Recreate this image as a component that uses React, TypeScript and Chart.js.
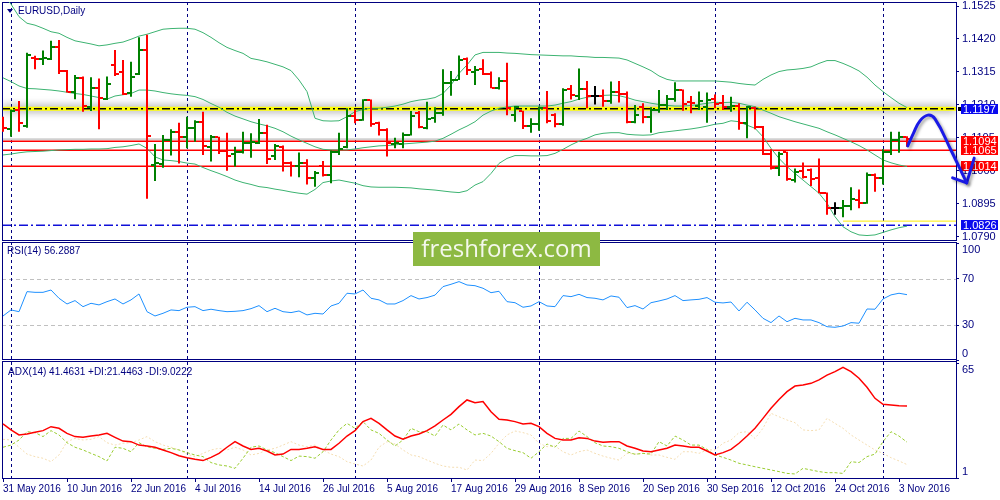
import React, { useEffect, useRef } from 'react';
import Chart from 'chart.js/auto';

// ---------- data ----------
const dateLabels = ['31 May 2016', '10 Jun 2016', '22 Jun 2016', '4 Jul 2016', '14 Jul 2016', '26 Jul 2016', '5 Aug 2016', '17 Aug 2016', '29 Aug 2016', '8 Sep 2016', '20 Sep 2016', '30 Sep 2016', '12 Oct 2016', '24 Oct 2016', '3 Nov 2016'];
const dateLabelIdx = [0, 8, 16, 24, 32, 40, 48, 56, 64, 72, 80, 88, 96, 104, 112];
const monthStartIdx = [1, 23, 44, 67, 89, 110];

const opens = [
  1.1156, 1.1133, 1.1193, 1.1142, 1.1359, 1.1355, 1.1357, 1.1395, 1.1318, 1.1250,
  1.1294, 1.1204, 1.1263, 1.1228, 1.1337, 1.1316, 1.1246, 1.1308, 1.1385, 1.1018,
  1.1020, 1.1098, 1.1122, 1.1106, 1.1137, 1.1154, 1.1076, 1.1106, 1.1064, 1.1052,
  1.1060, 1.1089, 1.1089, 1.1119, 1.1048, 1.1076, 1.1023, 1.1016, 1.1025, 1.0975,
  1.1016, 1.0986, 1.1060, 1.1076, 1.1174, 1.1161, 1.1225, 1.1153, 1.1130, 1.1084,
  1.1084, 1.1114, 1.1183, 1.1135, 1.1167, 1.1183, 1.1278, 1.1289, 1.1356, 1.1316,
  1.1323, 1.1308, 1.1265, 1.1286, 1.1177, 1.1191, 1.1142, 1.1148, 1.1199, 1.1177,
  1.1148, 1.1259, 1.1239, 1.1259, 1.1238, 1.1238, 1.1222, 1.1250, 1.1244, 1.1154,
  1.1204, 1.1170, 1.1193, 1.1209, 1.1227, 1.1257, 1.1220, 1.1206, 1.1204, 1.1228,
  1.1215, 1.1204, 1.1206, 1.1151, 1.1201, 1.1140, 1.1053, 1.1007, 1.1058, 1.0970,
  1.0999, 1.1002, 1.0975, 1.0928, 1.0880, 1.0880, 1.0887, 1.0906, 1.0898, 1.0986,
  1.0975, 1.1060, 1.1098, 1.1108,
];
const highs = [
  1.1172, 1.1195, 1.1222, 1.1376, 1.1366, 1.1383, 1.1414, 1.1417, 1.1321, 1.1305,
  1.1300, 1.1298, 1.1294, 1.1300, 1.1385, 1.1353, 1.1347, 1.1425, 1.1433, 1.1085,
  1.1114, 1.1132, 1.1153, 1.1172, 1.1161, 1.1188, 1.1114, 1.1108, 1.1121, 1.1076,
  1.1124, 1.1119, 1.1165, 1.1146, 1.1085, 1.1080, 1.1029, 1.1058, 1.1036, 1.0999,
  1.1031, 1.1064, 1.1121, 1.1199, 1.1193, 1.1228, 1.1227, 1.1156, 1.1135, 1.1105,
  1.1122, 1.1190, 1.1190, 1.1220, 1.1202, 1.1323, 1.1318, 1.1367, 1.1361, 1.1334,
  1.1355, 1.1316, 1.1298, 1.1344, 1.1206, 1.1191, 1.1167, 1.1204, 1.1254, 1.1183,
  1.1263, 1.1273, 1.1326, 1.1286, 1.1270, 1.1259, 1.1284, 1.1286, 1.1252, 1.1209,
  1.1215, 1.1202, 1.1257, 1.1241, 1.1282, 1.1259, 1.1238, 1.1252, 1.1249, 1.1243,
  1.1241, 1.1236, 1.1215, 1.1206, 1.1204, 1.1142, 1.1068, 1.1060, 1.1060, 1.1007,
  1.1026, 1.1007, 1.1039, 1.0930, 1.0899, 1.0906, 1.0947, 1.0940, 1.0994, 1.0991,
  1.1068, 1.1124, 1.1124, 1.1110,
];
const lows = [
  1.1124, 1.1108, 1.1124, 1.1137, 1.1323, 1.1337, 1.1353, 1.1308, 1.1249, 1.1228,
  1.1188, 1.1190, 1.1132, 1.1225, 1.1302, 1.1241, 1.1236, 1.1305, 1.0910, 1.0967,
  1.1009, 1.1048, 1.1023, 1.1071, 1.1092, 1.1050, 1.1029, 1.1053, 1.1000, 1.1013,
  1.1055, 1.1041, 1.1085, 1.1021, 1.1034, 1.0997, 1.0981, 1.0979, 1.0956, 1.0949,
  1.0981, 1.0960, 1.1050, 1.1071, 1.1151, 1.1159, 1.1140, 1.1112, 1.1045, 1.1071,
  1.1071, 1.1112, 1.1135, 1.1132, 1.1153, 1.1175, 1.1239, 1.1289, 1.1305, 1.1273,
  1.1305, 1.1263, 1.1259, 1.1177, 1.1156, 1.1133, 1.1121, 1.1127, 1.1151, 1.1138,
  1.1143, 1.1227, 1.1225, 1.1199, 1.1211, 1.1204, 1.1213, 1.1217, 1.1151, 1.1151,
  1.1151, 1.1121, 1.1185, 1.1193, 1.1220, 1.1191, 1.1183, 1.1193, 1.1153, 1.1199,
  1.1193, 1.1188, 1.1130, 1.1103, 1.1132, 1.1050, 1.1004, 1.0983, 1.0968, 1.0962,
  1.0975, 1.0951, 1.0928, 1.0859, 1.0859, 1.0851, 1.0874, 1.0880, 1.0894, 1.0933,
  1.0956, 1.1050, 1.1057, 1.1076,
];
const closes = [
  1.1135, 1.1190, 1.1151, 1.1369, 1.1355, 1.1358, 1.1395, 1.1318, 1.1252, 1.1294,
  1.1206, 1.1263, 1.1231, 1.1276, 1.1308, 1.1243, 1.1298, 1.1385, 1.1110, 1.1023,
  1.1098, 1.1122, 1.1106, 1.1137, 1.1154, 1.1079, 1.1106, 1.1064, 1.1048, 1.1060,
  1.1089, 1.1092, 1.1119, 1.1036, 1.1080, 1.1023, 1.1016, 1.1023, 1.0975, 1.0994,
  1.0986, 1.1060, 1.1069, 1.1174, 1.1161, 1.1225, 1.1148, 1.1130, 1.1089, 1.1089,
  1.1114, 1.1175, 1.1138, 1.1164, 1.1183, 1.1278, 1.1289, 1.1353, 1.1321, 1.1321,
  1.1308, 1.1265, 1.1286, 1.1199, 1.1202, 1.1142, 1.1148, 1.1199, 1.1158, 1.1148,
  1.1257, 1.1241, 1.1259, 1.1238, 1.1238, 1.1222, 1.1250, 1.1244, 1.1156, 1.1177,
  1.1172, 1.1193, 1.1209, 1.1227, 1.1257, 1.1213, 1.1217, 1.1222, 1.1225, 1.1213,
  1.1202, 1.1206, 1.1151, 1.1202, 1.1138, 1.1053, 1.1007, 1.1053, 1.0972, 1.0997,
  1.0981, 1.0972, 1.0930, 1.0880, 1.0880, 1.0887, 1.0908, 1.0898, 1.0986, 1.0978,
  1.1060, 1.1098, 1.1106, 1.1100,
];

const bbUpper = [
  1.1560, 1.1531, 1.1491, 1.1470, 1.1464, 1.1454, 1.1443, 1.1438, 1.1425, 1.1414,
  1.1409, 1.1404, 1.1398, 1.1401, 1.1406, 1.1410, 1.1419, 1.1429, 1.1435, 1.1443,
  1.1451, 1.1453, 1.1454, 1.1454, 1.1451, 1.1440, 1.1425, 1.1408, 1.1393, 1.1383,
  1.1374, 1.1358, 1.1353, 1.1347, 1.1339, 1.1331, 1.1319, 1.1289, 1.1252, 1.1167,
  1.1159, 1.1158, 1.1159, 1.1172, 1.1188, 1.1195, 1.1199, 1.1199, 1.1202, 1.1206,
  1.1212, 1.1220, 1.1225, 1.1228, 1.1233, 1.1246, 1.1273, 1.1310, 1.1337, 1.1369,
  1.1377, 1.1377, 1.1377, 1.1375, 1.1374, 1.1372, 1.1370, 1.1369, 1.1368, 1.1367,
  1.1366, 1.1366, 1.1364, 1.1363, 1.1361, 1.1361, 1.1360, 1.1359, 1.1353, 1.1342,
  1.1331, 1.1319, 1.1302, 1.1291, 1.1286, 1.1286, 1.1286, 1.1286, 1.1286, 1.1286,
  1.1284, 1.1282, 1.1278, 1.1275, 1.1273, 1.1291, 1.1305, 1.1316, 1.1321, 1.1323,
  1.1326, 1.1331, 1.1342, 1.1351, 1.1351, 1.1342, 1.1331, 1.1318, 1.1298, 1.1273,
  1.1252, 1.1233, 1.1215, 1.1201,
];
const bbMiddle = [
  1.1296, 1.1284, 1.1270, 1.1262, 1.1261, 1.1259, 1.1257, 1.1254, 1.1250, 1.1246,
  1.1243, 1.1238, 1.1233, 1.1228, 1.1238, 1.1242, 1.1246, 1.1257, 1.1257, 1.1254,
  1.1249, 1.1245, 1.1242, 1.1240, 1.1236, 1.1227, 1.1214, 1.1202, 1.1186, 1.1174,
  1.1165, 1.1156, 1.1149, 1.1143, 1.1135, 1.1124, 1.1110, 1.1098, 1.1087, 1.1076,
  1.1068, 1.1066, 1.1066, 1.1066, 1.1069, 1.1073, 1.1076, 1.1079, 1.1080, 1.1082,
  1.1085, 1.1087, 1.1089, 1.1091, 1.1094, 1.1103, 1.1116, 1.1130, 1.1142, 1.1156,
  1.1177, 1.1190, 1.1199, 1.1203, 1.1206, 1.1206, 1.1206, 1.1206, 1.1206, 1.1209,
  1.1215, 1.1220, 1.1228, 1.1234, 1.1238, 1.1240, 1.1241, 1.1239, 1.1233, 1.1225,
  1.1220, 1.1215, 1.1211, 1.1208, 1.1206, 1.1206, 1.1208, 1.1211, 1.1215, 1.1218,
  1.1217, 1.1218, 1.1215, 1.1209, 1.1204, 1.1193, 1.1183, 1.1172, 1.1164, 1.1156,
  1.1149, 1.1142, 1.1135, 1.1124, 1.1114, 1.1103, 1.1092, 1.1080, 1.1066, 1.1050,
  1.1034, 1.1025, 1.1018, 1.1013,
];
const bbLower = [
  1.1050, 1.1053, 1.1057, 1.1060, 1.1061, 1.1062, 1.1064, 1.1066, 1.1067, 1.1068,
  1.1068, 1.1069, 1.1069, 1.1070, 1.1074, 1.1076, 1.1080, 1.1085, 1.1071, 1.1044,
  1.1034, 1.1032, 1.1029, 1.1024, 1.1021, 1.1010, 1.1000, 1.0991, 1.0981, 1.0970,
  1.0962, 1.0956, 1.0949, 1.0946, 1.0941, 1.0937, 1.0932, 1.0928, 1.0925, 1.0940,
  1.0962, 1.0967, 1.0970, 1.0965, 1.0960, 1.0952, 1.0948, 1.0947, 1.0947, 1.0947,
  1.0946, 1.0945, 1.0942, 1.0940, 1.0938, 1.0935, 1.0932, 1.0930, 1.0936, 1.0954,
  1.0965, 1.0991, 1.1023, 1.1039, 1.1048, 1.1048, 1.1047, 1.1047, 1.1048, 1.1055,
  1.1068, 1.1082, 1.1094, 1.1103, 1.1114, 1.1119, 1.1121, 1.1121, 1.1116, 1.1114,
  1.1113, 1.1114, 1.1121, 1.1124, 1.1127, 1.1130, 1.1133, 1.1137, 1.1142, 1.1148,
  1.1151, 1.1159, 1.1156, 1.1145, 1.1135, 1.1108, 1.1071, 1.1039, 1.1013, 1.0991,
  1.0970, 1.0949, 1.0928, 1.0896, 1.0853, 1.0821, 1.0805, 1.0795, 1.0793, 1.0795,
  1.0803, 1.0811, 1.0818, 1.0823,
];

const rsi = [
  38.0, 43.2, 41.7, 58.9, 58.3, 58.3, 60.3, 53.2, 48.3, 51.2,
  46.0, 48.9, 47.5, 50.3, 52.6, 48.3, 51.8, 56.9, 41.7, 38.0,
  40.3, 43.2, 42.6, 45.5, 46.0, 42.6, 43.8, 42.6, 41.7, 42.0,
  42.6, 44.3, 46.9, 41.7, 44.6, 41.7, 40.9, 42.3, 38.9, 40.3,
  39.7, 46.6, 48.9, 57.5, 56.9, 60.3, 53.2, 51.8, 48.3, 48.3,
  51.2, 55.5, 52.6, 53.8, 55.9, 63.2, 65.2, 67.5, 64.6, 64.0,
  61.8, 58.0, 59.2, 50.3, 49.4, 45.5, 46.6, 50.3, 46.6, 46.0,
  55.5, 54.6, 56.6, 53.8, 53.2, 51.8, 55.2, 54.1, 45.2, 46.9,
  44.0, 49.4, 50.9, 52.6, 55.5, 51.2, 51.8, 52.3, 53.8, 49.8,
  49.2, 50.0, 42.3, 49.8, 43.2, 36.0, 32.3, 38.0, 33.1, 36.0,
  34.6, 34.6, 32.3, 28.8, 28.3, 29.4, 32.3, 31.8, 44.0, 43.8,
  52.6, 56.1, 57.5, 56.3,
];
const adx = [
  31.5, 28.2, 25.4, 25.9, 26.9, 27.8, 30.0, 29.1, 26.3, 24.5,
  24.1, 24.8, 25.4, 26.3, 24.1, 22.0, 21.7, 19.8, 19.3, 18.6,
  17.1, 15.6, 13.9, 12.8, 11.9, 11.2, 13.0, 15.2, 18.6, 21.7,
  19.3, 17.4, 18.0, 16.5, 14.3, 14.8, 17.4, 17.4, 18.0, 18.9,
  17.4, 17.4, 20.8, 24.8, 27.8, 32.8, 34.6, 31.8, 28.2, 24.8,
  23.0, 24.8, 25.9, 27.8, 30.4, 33.7, 36.8, 41.1, 44.8, 43.3,
  43.9, 38.3, 34.1, 33.7, 32.8, 31.5, 31.9, 30.0, 26.3, 23.5,
  22.6, 22.6, 23.9, 23.5, 22.0, 21.3, 21.7, 21.7, 19.3, 18.0,
  16.5, 16.1, 17.1, 18.0, 19.8, 19.3, 18.6, 18.6, 16.5, 14.3,
  15.6, 17.4, 20.8, 24.8, 29.1, 34.6, 40.2, 45.1, 49.4, 52.5,
  53.1, 54.0, 55.9, 58.6, 60.5, 62.9, 60.5, 56.8, 51.8, 45.7,
  42.4, 42.0, 41.6, 41.5,
];
const plusDI = [
  18.6, 19.8, 22.6, 27.2, 26.7, 24.5, 27.8, 25.4, 21.1, 18.6,
  17.1, 15.2, 13.4, 11.0, 18.6, 18.0, 16.1, 21.1, 18.9, 18.0,
  17.4, 18.0, 17.1, 15.6, 14.3, 13.4, 10.1, 8.8, 8.2, 6.9,
  12.5, 18.6, 19.3, 17.1, 15.6, 13.4, 11.2, 13.7, 13.4, 12.5,
  16.1, 22.6, 28.2, 31.8, 29.1, 32.8, 28.2, 26.3, 22.6, 19.3,
  22.6, 29.1, 27.2, 27.2, 24.8, 30.9, 28.2, 31.5, 28.2, 25.4,
  26.3, 24.8, 21.7, 18.0, 16.7, 15.6, 12.5, 16.1, 20.4, 18.6,
  23.5, 23.5, 27.6, 24.5, 21.1, 19.3, 18.9, 18.0, 16.1, 14.7,
  15.2, 14.8, 21.7, 19.3, 24.8, 22.6, 19.8, 19.8, 17.4, 14.3,
  13.0, 11.5, 9.7, 8.8, 7.8, 6.9, 6.0, 5.1, 4.1, 3.8,
  6.9, 6.0, 5.1, 4.5, 4.5, 4.1, 10.6, 10.1, 13.4, 14.8,
  21.7, 27.2, 24.8, 21.4,
];
const minusDI = [
  23.0, 22.6, 18.6, 14.8, 13.4, 12.5, 10.6, 14.3, 21.7, 23.5,
  22.6, 23.0, 24.5, 21.1, 19.8, 20.8, 21.1, 22.6, 24.5, 21.7,
  19.8, 18.6, 17.1, 14.8, 13.4, 15.2, 17.1, 18.0, 17.1, 18.6,
  17.1, 14.3, 15.2, 17.1, 18.0, 19.8, 21.7, 19.8, 18.9, 19.8,
  17.1, 14.8, 13.4, 10.6, 9.3, 8.2, 11.5, 18.6, 21.7, 20.4,
  17.1, 14.3, 13.4, 11.5, 9.7, 8.2, 7.5, 7.5, 6.0, 11.5,
  11.2, 15.2, 20.8, 25.4, 27.6, 26.7, 25.4, 20.8, 18.9, 19.3,
  16.1, 14.3, 16.1, 17.1, 15.2, 13.7, 12.5, 11.5, 15.2, 14.8,
  15.2, 14.3, 14.3, 13.0, 11.9, 16.1, 16.1, 15.2, 17.1, 17.1,
  20.8, 22.6, 26.7, 27.2, 23.5, 29.1, 37.4, 35.5, 33.7, 32.2,
  28.2, 27.8, 28.2, 34.6, 31.8, 29.1, 25.4, 22.6, 19.8, 17.1,
  15.2, 12.8, 11.0, 9.0,
];

const priceTicks = [1.0790, 1.0895, 1.1000, 1.1105, 1.1210, 1.1315, 1.1420, 1.1525];
const rsiTicks = [100, 70, 30, 0];
const rsiLevels = [70, 30];
const adxTicks = [65, 1];

const resistanceLevel = 1.1197;
const supportLevels = [1.1094, 1.1065, 1.1014];
const bidLevel = 1.1100;
const lowLevel = 1.0826;
const lowTrendLine = [{ x: 105, y: 1.0839 }, { x: 119.5, y: 1.0839 }];
const forecastPath = [
  { x: 113.1, y: 1.1079 }, { x: 113.8, y: 1.1119 }, { x: 114.6, y: 1.1158 },
  { x: 115.6, y: 1.1177 }, { x: 116.5, y: 1.1165 }, { x: 118.5, y: 1.1065 },
  { x: 120.46, y: 1.0961 },
];
const forecastHead = [{ x: 121.4, y: 1.1040 }, { x: 120.46, y: 1.0961 }, { x: 118.7, y: 1.0977 }];
const priceBadges = [
  { value: 1.1197, tone: 'blue' },
  { value: 1.1094, tone: 'red' },
  { value: 1.1065, tone: 'red' },
  { value: 1.1014, tone: 'red' },
  { value: 1.0826, tone: 'blue' },
];

// ---------- styles ----------
const NAVY = '#000080';
const BULL = '#008000';
const BEAR = '#ff0000';
const DOJI = '#000000';
const BB = '#3cb371';
const ARROW = '#1a1ae6';
const FONT = "'Liberation Sans', Arial, sans-serif";

export default function App() {
  const ref = useRef<HTMLCanvasElement>(null);

  useEffect(() => {
    document.body.style.margin = '0';
    const canvas = ref.current;
    if (!canvas) return;
    Chart.defaults.font.family = FONT;

    const tickImg = (color: string, side: 'open' | 'close') => {
      const c = document.createElement('canvas');
      c.width = 8;
      c.height = 2;
      const g = c.getContext('2d')!;
      g.fillStyle = color;
      g.fillRect(side === 'open' ? 0 : 5, 0, 3, 2);
      return c;
    };
    const colorOf = (i: number) => (closes[i] > opens[i] ? BULL : closes[i] < opens[i] ? BEAR : DOJI);
    const imgs: Record<string, { open: HTMLCanvasElement; close: HTMLCanvasElement }> = {};
    [BULL, BEAR, DOJI].forEach((c) => { imgs[c] = { open: tickImg(c, 'open'), close: tickImg(c, 'close') }; });
    const barColors = opens.map((_, i) => colorOf(i));
    const idx = opens.map((_, i) => i);

    const overlay = {
      id: 'mt4Overlay',
      beforeDatasetsDraw(chart: any) {
        const { ctx, chartArea, scales } = chart;
        const { left, right, top, bottom } = chartArea;
        const x = scales.x, y = scales.y, yr = scales.yr, ya = scales.ya;
        const hline = (py: number, x0: number, x1: number) => {
          ctx.beginPath(); ctx.moveTo(x0, py); ctx.lineTo(x1, py); ctx.stroke();
        };
        ctx.save();
        // RSI levels
        ctx.strokeStyle = '#c0c0c0'; ctx.lineWidth = 1; ctx.setLineDash([4, 3]);
        rsiLevels.forEach((v) => hline(Math.round(yr.getPixelForValue(v)) + 0.5, left, right));
        // month separators
        ctx.strokeStyle = NAVY; ctx.setLineDash([3, 3]);
        monthStartIdx.forEach((i) => {
          const px = Math.round(x.getPixelForValue(i)) + 0.5;
          ctx.beginPath(); ctx.moveTo(px, top); ctx.lineTo(px, bottom); ctx.stroke();
        });
        ctx.setLineDash([]);
        // main panel clip
        ctx.save();
        ctx.beginPath(); ctx.rect(left, y.top, right - left, y.bottom - y.top - 1); ctx.clip();
        // bid line
        ctx.strokeStyle = '#d0d0d0'; ctx.lineWidth = 2;
        hline(y.getPixelForValue(bidLevel), left, right);
        // support lines
        ctx.strokeStyle = BEAR; ctx.lineWidth = 1.5;
        supportLevels.forEach((v) => hline(y.getPixelForValue(v), left, right));
        // resistance
        const ry = y.getPixelForValue(resistanceLevel);
        ctx.save();
        ctx.shadowColor = 'rgba(0,0,0,0.55)'; ctx.shadowBlur = 9;
        ctx.strokeStyle = '#ffff00'; ctx.lineWidth = 4;
        hline(ry, left, right);
        ctx.restore();
        ctx.strokeStyle = '#000000'; ctx.lineWidth = 1.5; ctx.setLineDash([8, 3, 2, 3]);
        hline(ry, left, right);
        // low level
        ctx.strokeStyle = '#1010d8'; ctx.lineWidth = 1.5; ctx.setLineDash([9, 3, 2, 3]);
        hline(y.getPixelForValue(lowLevel), left, right);
        ctx.setLineDash([]);
        ctx.restore();
        // frames
        ctx.strokeStyle = NAVY; ctx.lineWidth = 1;
        const frame = (t: number, b: number) => {
          const tt = Math.round(t) + 0.5, bb = Math.round(b) + 0.5;
          ctx.strokeRect(Math.round(left) + 0.5, tt, Math.round(right) - Math.round(left), bb - tt);
        };
        frame(y.top, y.bottom - 1);
        frame(yr.top + 1, yr.bottom - 1);
        frame(ya.top + 1, ya.bottom - 1);
        // price badges
        ctx.font = `11px ${FONT}`;
        ctx.textBaseline = 'middle';
        ctx.textAlign = 'left';
        priceBadges.forEach((b) => {
          const py = Math.round(y.getPixelForValue(b.value));
          ctx.fillStyle = b.tone === 'blue' ? '#0a0aee' : '#ff0000';
          ctx.fillRect(right + 5, py - 5, 37, 10);
          if (b.tone === 'blue' && b.value === resistanceLevel) {
            ctx.fillStyle = '#000000';
            ctx.fillRect(right + 2, py - 2, 3, 4);
          }
          ctx.fillStyle = '#ffffff';
          ctx.fillText(b.value.toFixed(4), right + 7, py + 0.5);
        });
        ctx.restore();
      },
      beforeDatasetDraw(chart: any, args: any) {
        if (args.index <= 1) {
          const ctx = chart.ctx;
          ctx.save();
          ctx.shadowColor = 'rgba(0,0,0,0.35)';
          ctx.shadowBlur = 3;
          ctx.shadowOffsetX = 2;
          ctx.shadowOffsetY = 2;
        }
      },
      afterDatasetDraw(chart: any, args: any) {
        if (args.index <= 1) chart.ctx.restore();
      },
    };

    const axisTicks = { color: NAVY, font: { size: 11, family: FONT }, padding: 3, autoSkip: false };
    const axisGrid = { drawOnChartArea: false, drawTicks: true, tickLength: 3, color: NAVY };
    const fitRight = (s: any) => { s.width = 44; s.paddingTop = 0; s.paddingBottom = 0; };

    const chart = new Chart(canvas, {
      type: 'line',
      data: {
        labels: idx,
        datasets: [
          { type: 'line', data: forecastPath as any, yAxisID: 'y', borderColor: ARROW, borderWidth: 3, tension: 0.45, pointRadius: 0, clip: false as any, borderCapStyle: 'round', borderJoinStyle: 'round' },
          { type: 'line', data: forecastHead as any, yAxisID: 'y', borderColor: ARROW, borderWidth: 3, tension: 0, pointRadius: 0, clip: false as any, borderCapStyle: 'round', borderJoinStyle: 'round' },
          { type: 'line', data: opens, yAxisID: 'y', showLine: false, pointRadius: 3, pointStyle: opens.map((_, i) => imgs[barColors[i]].open) as any },
          { type: 'line', data: closes, yAxisID: 'y', showLine: false, pointRadius: 3, pointStyle: closes.map((_, i) => imgs[barColors[i]].close) as any },
          { type: 'bar', data: lows.map((l, i) => [l, highs[i]]) as any, yAxisID: 'y', backgroundColor: barColors, borderWidth: 0, barThickness: 2, inflateAmount: 0 as any },
          { type: 'line', data: lowTrendLine as any, yAxisID: 'y', borderColor: '#ffee00', borderWidth: 1, pointRadius: 0 },
          { type: 'line', data: bbUpper, yAxisID: 'y', borderColor: BB, borderWidth: 1, pointRadius: 0, tension: 0 },
          { type: 'line', data: bbMiddle, yAxisID: 'y', borderColor: BB, borderWidth: 1, pointRadius: 0, tension: 0 },
          { type: 'line', data: bbLower, yAxisID: 'y', borderColor: BB, borderWidth: 1, pointRadius: 0, tension: 0 },
          { type: 'line', data: rsi, yAxisID: 'yr', borderColor: '#1e90ff', borderWidth: 1, pointRadius: 0, tension: 0 },
          { type: 'line', data: adx, yAxisID: 'ya', borderColor: '#ff0000', borderWidth: 1.5, pointRadius: 0, tension: 0 },
          { type: 'line', data: plusDI, yAxisID: 'ya', borderColor: '#9acd32', borderWidth: 1, borderDash: [3, 2], pointRadius: 0, tension: 0 },
          { type: 'line', data: minusDI, yAxisID: 'ya', borderColor: '#f5deb3', borderWidth: 1, borderDash: [2, 2], pointRadius: 0, tension: 0 },
        ],
      },
      options: {
        responsive: false,
        maintainAspectRatio: false,
        animation: false,
        events: [],
        layout: { autoPadding: false, padding: { left: 2, top: 2, right: 0, bottom: 0 } },
        plugins: { legend: { display: false }, tooltip: { enabled: false } },
        scales: {
          x: {
            type: 'linear', position: 'bottom', min: -0.125, max: 119.125, offset: false,
            afterBuildTicks: (s: any) => { s.ticks = dateLabelIdx.map((v) => ({ value: v })); },
            afterFit: (s: any) => { s.height = 21; s.paddingLeft = 0; s.paddingRight = 0; },
            ticks: { color: NAVY, font: { size: 10, family: FONT }, padding: 1, align: 'start', maxRotation: 0, autoSkip: false, callback: (_v: any, i: number) => dateLabels[i] },
            grid: { ...axisGrid, offset: false },
            border: { display: false },
          },
          y: {
            type: 'linear', position: 'right', stack: 'panes', stackWeight: 239, weight: 1,
            min: 1.07756, max: 1.15378, beginAtZero: false,
            afterBuildTicks: (s: any) => { s.ticks = priceTicks.map((v) => ({ value: v })); },
            afterFit: fitRight,
            ticks: { ...axisTicks, callback: (v: any) => Number(v).toFixed(4) },
            grid: axisGrid, border: { display: false },
          },
          yr: {
            type: 'linear', position: 'right', stack: 'panes', stackWeight: 119.5, weight: 2,
            min: -0.21, max: 102.36,
            afterBuildTicks: (s: any) => { s.ticks = rsiTicks.map((v) => ({ value: v })); },
            afterFit: fitRight,
            ticks: { ...axisTicks, callback: (v: any) => (v === 100 ? ['', '100'] : v === 0 ? ['0', ''] : String(v)) },
            grid: axisGrid, border: { display: false },
          },
          ya: {
            type: 'linear', position: 'right', stack: 'panes', stackWeight: 118.5, weight: 3,
            min: 1, max: 66.66,
            afterBuildTicks: (s: any) => { s.ticks = adxTicks.map((v) => ({ value: v })); },
            afterFit: fitRight,
            ticks: { ...axisTicks, callback: (v: any) => (v === 65 ? ['', '65'] : v === 1 ? ['1', ''] : String(v)) },
            grid: axisGrid, border: { display: false },
          },
        },
      } as any,
      plugins: [overlay],
    });
    return () => chart.destroy();
  }, []);

  const label: React.CSSProperties = { position: 'absolute', color: NAVY, font: `10px ${FONT}`, lineHeight: '12px', whiteSpace: 'nowrap' };
  return (
    <div style={{ position: 'relative', width: 1000, height: 500, background: '#ffffff', overflow: 'hidden' }}>
      <canvas ref={ref} width={1000} height={500} style={{ display: 'block', width: 1000, height: 500 }} />
      <div style={{ position: 'absolute', left: 7, top: 9, width: 0, height: 0, borderLeft: '3px solid transparent', borderRight: '3px solid transparent', borderTop: `4px solid ${NAVY}` }} />
      <div style={{ ...label, left: 18, top: 5 }}>EURUSD,Daily</div>
      <div style={{ ...label, left: 7, top: 245 }}>RSI(14) 56.2887</div>
      <div style={{ ...label, left: 8, top: 366 }}>ADX(14) 41.4631 +DI:21.4463 -DI:9.0222</div>
      <div style={{ position: 'absolute', left: 413, top: 232, width: 187, height: 34, background: '#8db942', color: '#f4f8ec', font: "24px 'Open Sans', sans-serif", lineHeight: '32px', textAlign: 'center' }}>freshforex.com</div>
    </div>
  );
}
